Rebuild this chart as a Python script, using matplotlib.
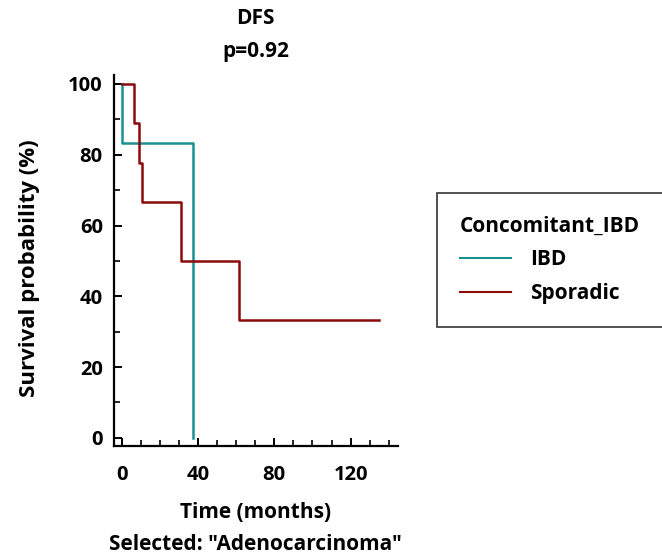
import matplotlib
matplotlib.use("Agg")
import matplotlib.pyplot as plt
from matplotlib.lines import Line2D
from matplotlib.ticker import MultipleLocator

# Kaplan-Meier step data
ibd_times = [0, 0.5, 37.5]
ibd_surv = [100, 83.3, 0]

sporadic_times = [0, 6.5, 9, 10.5, 31, 61.5, 135]
sporadic_surv = [100, 88.9, 77.8, 66.7, 50, 33.3, 33.3]

groups = ["IBD", "Sporadic"]
colors = ["#1a9090", "#8b0a0a"]

plt.rcParams['font.family'] = ['Open Sans', 'DejaVu Sans']
plt.rcParams['font.weight'] = 'bold'

fig = plt.figure(figsize=(6.62, 5.58), dpi=100)
ax = fig.add_axes([0.172, 0.2007, 0.429, 0.6653])

ax.step(ibd_times, ibd_surv, where="post", color=colors[0], lw=1.8)
ax.step(sporadic_times, sporadic_surv, where="post", color=colors[1], lw=1.8)

ax.set_xlim(-4, 144.7)
ax.set_ylim(-2.3, 102.6)
ax.xaxis.set_major_locator(MultipleLocator(40))
ax.xaxis.set_minor_locator(MultipleLocator(10))
ax.yaxis.set_major_locator(MultipleLocator(20))
ax.yaxis.set_minor_locator(MultipleLocator(10))

for s in ["top", "right"]:
    ax.spines[s].set_visible(False)
for s in ["left", "bottom"]:
    ax.spines[s].set_linewidth(1.6)

ax.tick_params(which="major", direction="in", length=6, width=1.4, labelsize=14.5)
ax.tick_params(which="minor", direction="in", length=4, width=1.2)
ax.tick_params(axis="y", which="major", pad=8)
ax.tick_params(axis="x", which="major", pad=14)
for lbl in ax.get_xticklabels() + ax.get_yticklabels():
    lbl.set_fontweight("bold")

ax.set_ylabel("Survival probability (%)", fontsize=16, fontweight="bold")
ax.yaxis.set_label_coords(-0.26, 0.48)
ax.set_xlabel("Time (months)\nSelected: \"Adenocarcinoma\"", fontsize=15,
              fontweight="bold", linespacing=1.7, labelpad=12)
ax.set_title("DFS\np=0.92", fontsize=15, fontweight="bold", linespacing=1.75, pad=13)

handles = [Line2D([0], [0], color=c, lw=1.5) for c in colors]
leg = fig.legend(handles, groups, title="Concomitant_IBD",
                 loc="upper left", bbox_to_anchor=(0.660, 0.654), borderaxespad=0,
                 fontsize=15, title_fontsize=15, frameon=True, fancybox=False,
                 edgecolor="black", handlelength=2.45, handletextpad=0.9,
                 borderpad=1.1, labelspacing=0.6, alignment="left")
leg.get_frame().set_linewidth(1.2)
leg.get_title().set_fontweight("bold")
for t in leg.get_texts():
    t.set_fontweight("bold")

fig.savefig("out.png", dpi=100)
